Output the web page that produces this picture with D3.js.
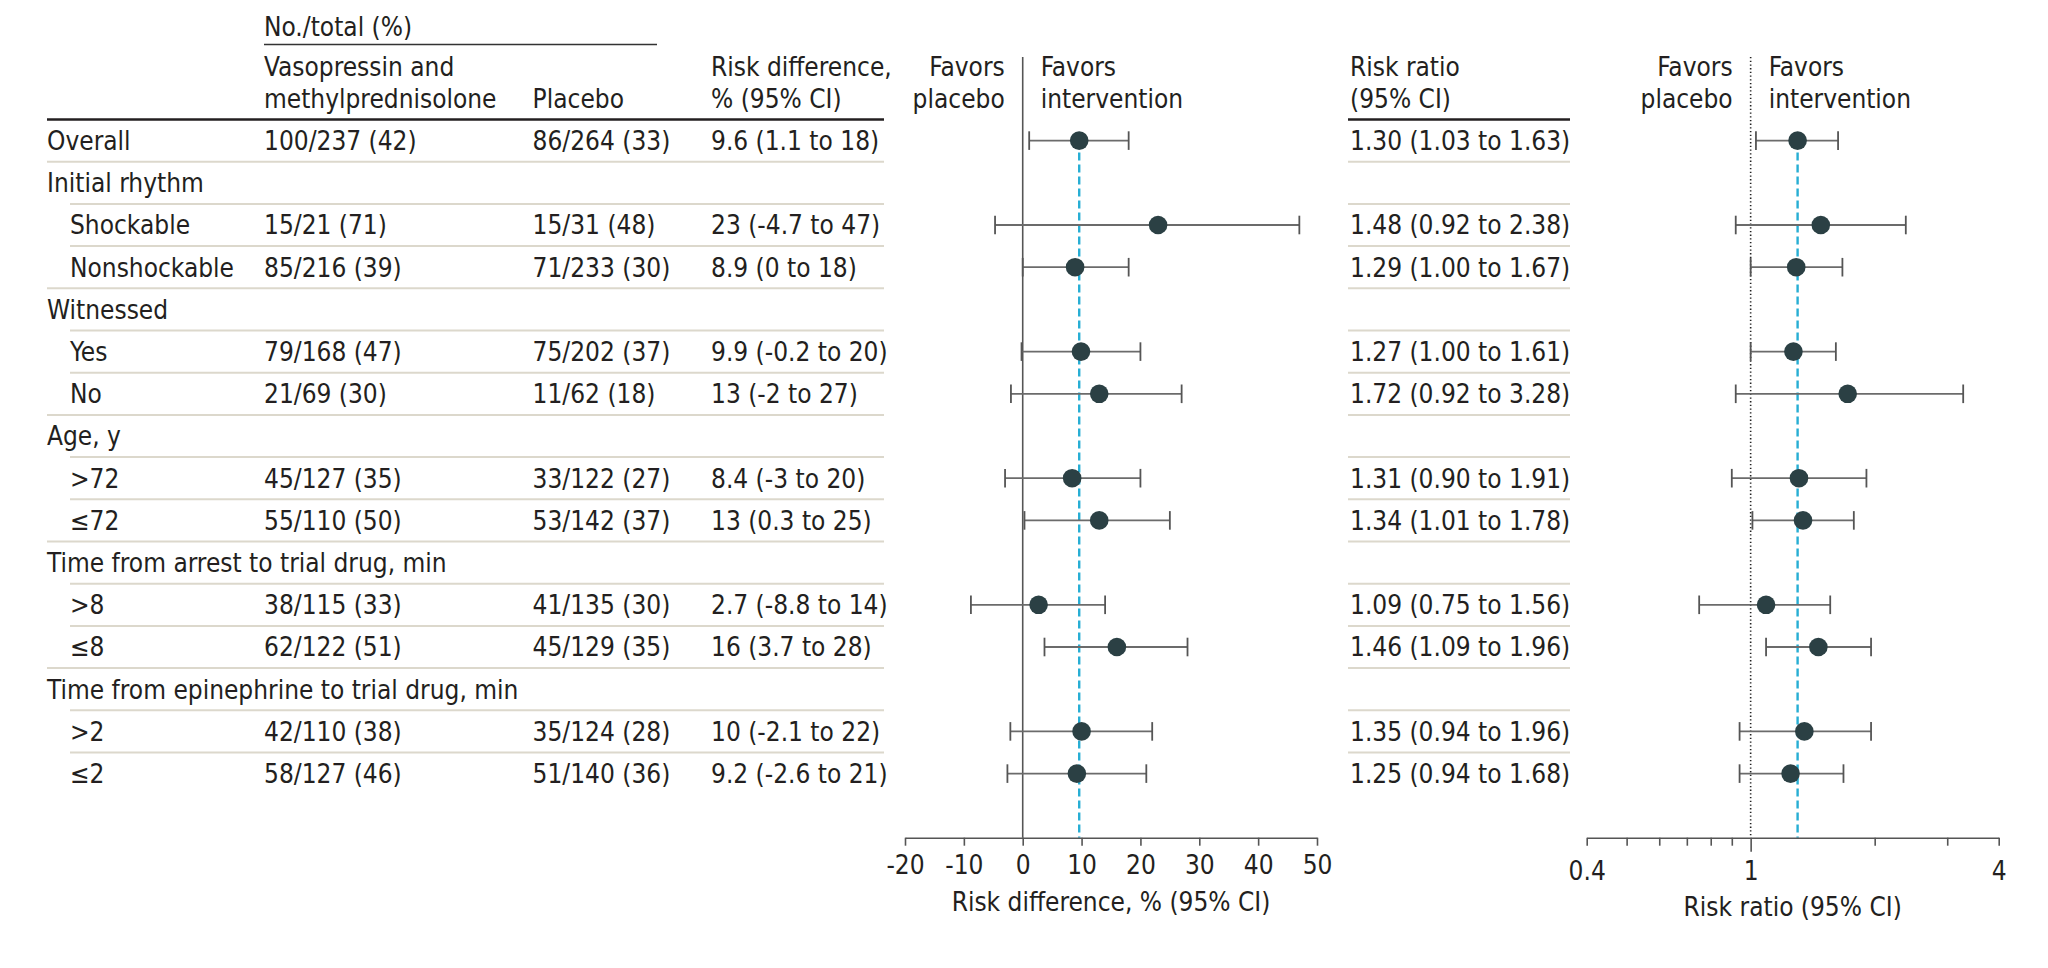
<!DOCTYPE html>
<html>
<head>
<meta charset="utf-8">
<script src="https://cdn.jsdelivr.net/npm/d3@7"></script>
<style>
  html, body { margin: 0; padding: 0; background: #fff; }
  svg text { font-family: "DejaVu Sans Condensed", "DejaVu Sans", sans-serif; font-stretch: condensed; fill: #231f20; }
</style>
</head>
<body>
<div id="chart"></div>
<script>
// Row data
const labels = ["Overall", "Initial rhythm", "Shockable", "Nonshockable", "Witnessed", "Yes", "No",
  "Age, y", ">72", "≤72", "Time from arrest to trial drug, min", ">8", "≤8",
  "Time from epinephrine to trial drug, min", ">2", "≤2"];
const indent = [0, 0, 1, 1, 0, 1, 1, 0, 1, 1, 0, 1, 1, 0, 1, 1];
const interventionText = ["100/237 (42)", "", "15/21 (71)", "85/216 (39)", "", "79/168 (47)", "21/69 (30)",
  "", "45/127 (35)", "55/110 (50)", "", "38/115 (33)", "62/122 (51)", "", "42/110 (38)", "58/127 (46)"];
const placeboText = ["86/264 (33)", "", "15/31 (48)", "71/233 (30)", "", "75/202 (37)", "11/62 (18)",
  "", "33/122 (27)", "53/142 (37)", "", "41/135 (30)", "45/129 (35)", "", "35/124 (28)", "51/140 (36)"];
const rdText = ["9.6 (1.1 to 18)", "", "23 (-4.7 to 47)", "8.9 (0 to 18)", "", "9.9 (-0.2 to 20)", "13 (-2 to 27)",
  "", "8.4 (-3 to 20)", "13 (0.3 to 25)", "", "2.7 (-8.8 to 14)", "16 (3.7 to 28)", "", "10 (-2.1 to 22)", "9.2 (-2.6 to 21)"];
const rd   = [9.6, null, 23, 8.9, null, 9.9, 13, null, 8.4, 13, null, 2.7, 16, null, 10, 9.2];
const rdLo = [1.1, null, -4.7, 0, null, -0.2, -2, null, -3, 0.3, null, -8.8, 3.7, null, -2.1, -2.6];
const rdHi = [18, null, 47, 18, null, 20, 27, null, 20, 25, null, 14, 28, null, 22, 21];
const rrText = ["1.30 (1.03 to 1.63)", "", "1.48 (0.92 to 2.38)", "1.29 (1.00 to 1.67)", "", "1.27 (1.00 to 1.61)", "1.72 (0.92 to 3.28)",
  "", "1.31 (0.90 to 1.91)", "1.34 (1.01 to 1.78)", "", "1.09 (0.75 to 1.56)", "1.46 (1.09 to 1.96)", "", "1.35 (0.94 to 1.96)", "1.25 (0.94 to 1.68)"];
const rr   = [1.30, null, 1.48, 1.29, null, 1.27, 1.72, null, 1.31, 1.34, null, 1.09, 1.46, null, 1.35, 1.25];
const rrLo = [1.03, null, 0.92, 1.00, null, 1.00, 0.92, null, 0.90, 1.01, null, 0.75, 1.09, null, 0.94, 0.94];
const rrHi = [1.63, null, 2.38, 1.67, null, 1.61, 3.28, null, 1.91, 1.78, null, 1.56, 1.96, null, 1.96, 1.68];

// Axis ticks
const rdTicks = [-20, -10, 0, 10, 20, 30, 40, 50];
const rrTicks = [0.4, 0.5, 0.6, 0.7, 0.8, 0.9, 1, 2, 3, 4];
const rrTickLabels = [0.4, 1, 4];

const Width = 2048, Height = 968;
const textColor = "#231f20";
const fontSize = 26;

const svg = d3.select("#chart").append("svg")
  .attr("width", Width)
  .attr("height", Height);

// Scales
const idx = d3.range(labels.length);
const yScale = d3.scalePoint().domain(idx).range([140.6, 140.6 + 42.2 * 15]);
const rowTop = i => yScale(i) - 21.1;
const xRD = d3.scaleLinear().domain([-20, 50]).range([905, 1317]);
const xRR = d3.scaleLog().domain([0.4, 4]).range([1586.7, 1998.7]);
const axisY = 837.7;
const plotTop = 57;

// Column positions
const col = { label: 47, indent: 70, interv: 264, placebo: 532.6, rd: 711, rr: 1350 };
const leftEnd = 884, rightStart = 1348, rightEnd = 1570;

function txt(x, y, s, anchor) {
  return svg.append("text")
    .attr("x", x).attr("y", y).attr("dy", "0.36em")
    .attr("text-anchor", anchor || "start")
    .attr("font-size", fontSize)
    .text(s);
}

// Header
txt(col.interv, 27, "No./total (%)");
svg.append("line").attr("x1", col.interv).attr("x2", 657).attr("y1", 44.5).attr("y2", 44.5)
  .attr("stroke", "#333").attr("stroke-width", 1.5);
txt(col.interv, 67, "Vasopressin and");
txt(col.interv, 99, "methylprednisolone");
txt(col.placebo, 99, "Placebo");
txt(col.rd, 67, "Risk difference,");
txt(col.rd, 99, "% (95% CI)");
txt(col.rr, 67, "Risk ratio");
txt(col.rr, 99, "(95% CI)");
txt(xRD(0) - 18, 67, "Favors", "end");
txt(xRD(0) - 18, 99, "placebo", "end");
txt(xRD(0) + 18, 67, "Favors");
txt(xRD(0) + 18, 99, "intervention");
txt(xRR(1) - 18, 67, "Favors", "end");
txt(xRR(1) - 18, 99, "placebo", "end");
txt(xRR(1) + 18, 67, "Favors");
txt(xRR(1) + 18, 99, "intervention");

// Thick header rules
[[col.label, leftEnd], [rightStart, rightEnd]].forEach(([a, b]) => {
  svg.append("line").attr("x1", a).attr("x2", b).attr("y1", 119.5).attr("y2", 119.5)
    .attr("stroke", "#231f20").attr("stroke-width", 2.5);
});

// Row separators
const seps = d3.range(1, labels.length);
svg.append("g").selectAll("line.sepL").data(seps).join("line")
  .attr("x1", i => indent[i] ? col.indent : col.label).attr("x2", leftEnd)
  .attr("y1", i => rowTop(i)).attr("y2", i => rowTop(i))
  .attr("stroke", "#dcd8cc").attr("stroke-width", 2);
svg.append("g").selectAll("line.sepR").data(seps).join("line")
  .attr("x1", rightStart).attr("x2", rightEnd)
  .attr("y1", i => rowTop(i)).attr("y2", i => rowTop(i))
  .attr("stroke", "#dcd8cc").attr("stroke-width", 2);

// Table text
const rows = svg.append("g").selectAll("g").data(idx).join("g")
  .attr("font-size", fontSize);
rows.append("text").attr("x", i => indent[i] ? col.indent : col.label).attr("y", i => yScale(i)).attr("dy", "0.36em").text(i => labels[i]);
rows.append("text").attr("x", col.interv).attr("y", i => yScale(i)).attr("dy", "0.36em").text(i => interventionText[i]);
rows.append("text").attr("x", col.placebo).attr("y", i => yScale(i)).attr("dy", "0.36em").text(i => placeboText[i]);
rows.append("text").attr("x", col.rd).attr("y", i => yScale(i)).attr("dy", "0.36em").text(i => rdText[i]);
rows.append("text").attr("x", col.rr).attr("y", i => yScale(i)).attr("dy", "0.36em").text(i => rrText[i]);

// Reference lines
svg.append("line").attr("x1", xRD(0)).attr("x2", xRD(0)).attr("y1", plotTop).attr("y2", axisY)
  .attr("stroke", "#555").attr("stroke-width", 1.6);
svg.append("line").attr("x1", xRD(rd[0])).attr("x2", xRD(rd[0])).attr("y1", yScale(0)).attr("y2", axisY)
  .attr("stroke", "#27aed4").attr("stroke-width", 2.4).attr("stroke-dasharray", "8,4");
svg.append("line").attr("x1", xRR(1)).attr("x2", xRR(1)).attr("y1", plotTop).attr("y2", axisY)
  .attr("stroke", "#222").attr("stroke-width", 1.6).attr("stroke-dasharray", "1.3,2.4");
svg.append("line").attr("x1", xRR(rr[0])).attr("x2", xRR(rr[0])).attr("y1", yScale(0)).attr("y2", axisY)
  .attr("stroke", "#27aed4").attr("stroke-width", 2.4).attr("stroke-dasharray", "8,4");

// Forest marks
function forest(x, est, lo, hi) {
  const data = idx.filter(i => est[i] !== null);
  const g = svg.append("g");
  g.selectAll("line.ci").data(data).join("line")
    .attr("x1", i => x(lo[i])).attr("x2", i => x(hi[i]))
    .attr("y1", i => yScale(i)).attr("y2", i => yScale(i))
    .attr("stroke", "#6b6b6b").attr("stroke-width", 1.8);
  [lo, hi].forEach(arr => {
    g.selectAll(null).data(data).join("line")
      .attr("x1", i => x(arr[i])).attr("x2", i => x(arr[i]))
      .attr("y1", i => yScale(i) - 9.3).attr("y2", i => yScale(i) + 9.3)
      .attr("stroke", "#555").attr("stroke-width", 1.8);
  });
  g.selectAll("circle").data(data).join("circle")
    .attr("cx", i => x(est[i])).attr("cy", i => yScale(i)).attr("r", 9.3)
    .attr("fill", "#2b4044");
}
forest(xRD, rd, rdLo, rdHi);
forest(xRR, rr, rrLo, rrHi);

// Axes
const axRD = svg.append("g")
  .attr("transform", `translate(0, ${axisY})`)
  .call(d3.axisBottom(xRD).tickValues(rdTicks).tickSizeInner(8).tickSizeOuter(0).tickPadding(10).tickFormat(d => String(d)));
axRD.select(".domain").attr("stroke", "#555").attr("stroke-width", 1.6);
axRD.selectAll(".tick line").attr("stroke", "#555").attr("stroke-width", 1.6);
axRD.selectAll(".tick text").attr("font-size", fontSize).attr("fill", textColor);
axRD.attr("font-family", null);

const axRR = svg.append("g")
  .attr("transform", `translate(0, ${axisY})`)
  .call(d3.axisBottom(xRR).tickValues(rrTicks).tickSizeInner(8).tickSizeOuter(0).tickPadding(16)
    .tickFormat(d => rrTickLabels.includes(d) ? String(d) : ""));
axRR.select(".domain").attr("stroke", "#555").attr("stroke-width", 1.6);
axRR.selectAll(".tick line").attr("stroke", "#555").attr("stroke-width", 1.6)
  .attr("y2", d => d === 1 ? 14 : 8);
axRR.selectAll(".tick text").attr("font-size", fontSize).attr("fill", textColor);
axRR.attr("font-family", null);

// Axis titles
txt((xRD.range()[0] + xRD.range()[1]) / 2, 902, "Risk difference, % (95% CI)", "middle");
txt((xRR.range()[0] + xRR.range()[1]) / 2, 907, "Risk ratio (95% CI)", "middle");
</script>
</body>
</html>
